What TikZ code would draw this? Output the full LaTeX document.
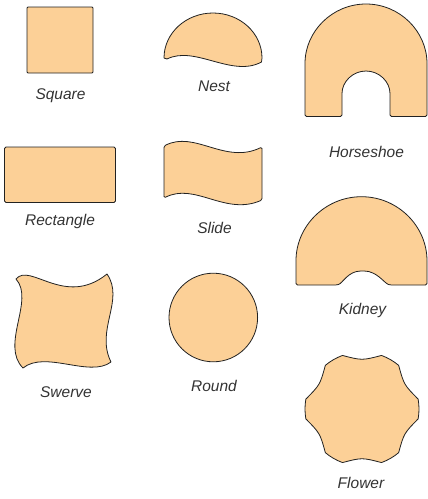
\documentclass[tikz,border=0pt]{standalone}
\usepackage{fontspec}
\newfontfamily\labfont{Liberation Sans}
\definecolor{tablefill}{HTML}{FCD097}
\definecolor{tableline}{HTML}{222222}
\definecolor{labtext}{HTML}{333333}
\begin{document}
\begin{tikzpicture}[x=1pt,y=-1pt,
  tableshape/.style={fill=tablefill,draw=tableline,line width=0.8pt,line join=round},
  lab/.style={font=\labfont\itshape\fontsize{15.5}{18}\selectfont,text=labtext,anchor=base,inner sep=0pt}]
\useasboundingbox (0,0) rectangle (428,499);
% Square
\draw[tableshape,rounded corners=1pt] (27,7) rectangle (93,73);
\node[lab] (lsquare) at (60.5,99) {Square};
% Nest
\draw[tableshape] (164,58) arc[start angle=180,end angle=360,x radius=49,y radius=45]
  -- (261.5,62) .. controls (232,78) and (195,45) .. (167,59) -- cycle;
\node[lab] (lnest) at (214,91.5) {Nest};
% Horseshoe
\draw[tableshape,rounded corners=1.5pt] (305,116.5) -- (305,65)
  arc[start angle=180,end angle=360,radius=61] -- (427,116.5) -- (390,116.5) -- (390,95)
  arc[start angle=360,end angle=180,radius=24] -- (342,116.5) -- cycle;
\node[lab] (lhorse) at (366.5,157.3) {Horseshoe};
% Rectangle
\draw[tableshape,rounded corners=1.5pt] (4.5,147) rectangle (115.5,202.5);
\node[lab] (lrect) at (60,225.5) {Rectangle};
% Slide
\draw[tableshape,rounded corners=1.5pt] (164,146) .. controls (195,130) and (225,165) .. (262,147)
  -- (262,200) .. controls (225,216) and (195,182) .. (164,198) -- cycle;
\node[lab] (lslide) at (214.5,233) {Slide};
% Kidney
\draw[tableshape,rounded corners=1.5pt] (296,285) -- (296,262.2)
  arc[start angle=180,end angle=360,radius=65.5] -- (427,285) -- (390,285)
  .. controls (384,283) and (377,271) .. (362.5,271)
  .. controls (348,271) and (343,283) .. (337,285) -- cycle;
\node[lab] (lkidney) at (362.5,314.5) {Kidney};
% Swerve
\draw[tableshape] (16,279) .. controls (30,262) and (65,308) .. (107,274)
  .. controls (125,300) and (95,330) .. (111,362)
  .. controls (90,378) and (45,350) .. (23,368)
  .. controls (0,345) and (35,300) .. (16,279) -- cycle;
\node[lab] (lswerve) at (66,397) {Swerve};
% Round
\draw[tableshape] (213.3,317.5) circle[radius=44.3];
\node[lab] (lround) at (214,391.5) {Round};
% Flower
\begin{scope}[shift={(362,409)}]
\draw[tableshape] (10:57) \foreach \k in {0,60,...,300} {
    .. controls ({\k+30}:48.5) .. ({\k+50}:57) arc[start angle=\k+50,end angle=\k+70,radius=57]
  } -- cycle;
\end{scope}
\node[lab] (lflower) at (361,488) {Flower};
\end{tikzpicture}
\end{document}
